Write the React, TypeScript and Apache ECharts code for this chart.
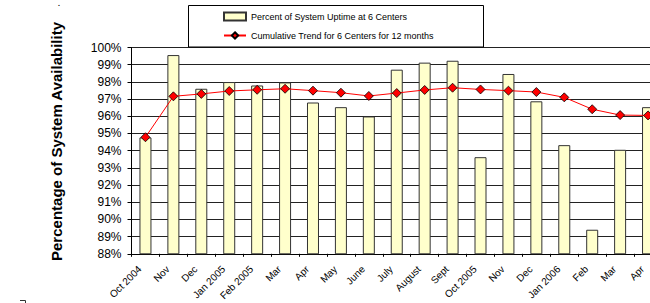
import React, { useEffect, useRef } from "react";
import * as echarts from "echarts";

const categories = [
  "Oct 2004", "Nov", "Dec", "Jan 2005", "Feb 2005", "Mar", "Apr", "May", "June",
  "July", "August", "Sept", "Oct 2005", "Nov", "Dec", "Jan 2006", "Feb", "Mar", "Apr",
];
const uptime = [
  94.77, 99.56, 97.6, 97.99, 97.79, 97.97, 96.8, 96.53, 95.99,
  98.71, 99.12, 99.23, 93.62, 98.46, 96.87, 94.32, 89.4, 94.05, 96.53,
];
const trend = [
  94.78, 97.16, 97.3, 97.47, 97.54, 97.6, 97.49, 97.37, 97.18,
  97.35, 97.53, 97.66, 97.56, 97.49, 97.41, 97.1, 96.41, 96.07, 96.05,
];
const barName = "Percent of System Uptime at 6 Centers";
const lineName = "Cumulative Trend for 6 Centers for 12 months";
const yTitle = "Percentage of System Availability";

const FONT = "'Liberation Sans', Arial, sans-serif";

export default function App() {
  const ref = useRef<HTMLDivElement>(null);
  useEffect(() => {
    if (!ref.current) return;
    const chart = echarts.init(ref.current, undefined, { renderer: "svg" });
    chart.setOption({
      animation: false,
      backgroundColor: "#fff",
      textStyle: { fontFamily: FONT },
      grid: { left: 131.5, top: 47.5, width: 530.5, height: 209.5 },
      legend: {
        orient: "vertical",
        left: 223,
        top: 11,
        padding: 0,
        itemGap: 8,
        itemWidth: 22,
        itemHeight: 8,
        textStyle: { fontSize: 9, color: "#000", fontFamily: FONT, lineHeight: 11 },
        data: [
          { name: barName, icon: "rect" },
          { name: lineName },
        ],
      },
      xAxis: {
        type: "category",
        data: categories,
        boundaryGap: true,
        axisLine: { lineStyle: { color: "#000", width: 1 } },
        axisTick: { show: true, length: 3, lineStyle: { color: "#000" } },
        axisLabel: {
          interval: 0,
          rotate: 45,
          fontSize: 10,
          margin: 8,
          padding: [0, 8, 4, 0],
          color: "#000",
          fontFamily: FONT,
        },
      },
      yAxis: {
        type: "value",
        min: 88,
        max: 100,
        interval: 1,
        axisLine: { show: true, lineStyle: { color: "#000", width: 1 } },
        axisTick: { show: true, length: 4, lineStyle: { color: "#000" } },
        axisLabel: {
          formatter: "{value}%",
          fontSize: 12,
          margin: 10,
          color: "#000",
          fontFamily: FONT,
        },
        splitLine: { show: true, lineStyle: { color: "#222", width: 1 } },
      },
      series: [
        {
          name: barName,
          type: "bar",
          data: uptime,
          barWidth: 12,
          itemStyle: { color: "#FFFFCC", borderColor: "#333", borderWidth: 1 },
        },
        {
          name: lineName,
          type: "line",
          data: trend,
          symbol: "diamond",
          symbolSize: 9,
          lineStyle: { color: "#FF0000", width: 1 },
          itemStyle: { color: "#FF0000", borderColor: "#000", borderWidth: 0.8 },
          z: 5,
        },
      ],
      graphic: [
        {
          type: "rect",
          shape: { x: 188.5, y: 5.5, width: 295, height: 41.5 },
          style: { fill: "none", stroke: "#000", lineWidth: 1 },
          z: 10,
        },
        {
          type: "text",
          x: 56,
          y: 141.5,
          rotation: Math.PI / 2,
          style: {
            text: yTitle,
            font: `bold 15px ${FONT}`,
            fill: "#000",
            align: "center",
            verticalAlign: "middle",
          },
        },
        {
          type: "text",
          x: 59,
          y: 0,
          style: { text: ".", font: `bold 7px ${FONT}`, fill: "#000", align: "center", verticalAlign: "top" },
        },
        {
          type: "polyline",
          shape: { points: [[20, 300.5], [25.5, 300.5], [25.5, 303]] },
          style: { stroke: "#333", lineWidth: 1, fill: "none" },
        },
      ],
    });
    return () => chart.dispose();
  }, []);
  return (
    <div
      style={{
        position: "fixed",
        left: 0,
        top: 0,
        width: 650,
        height: 303,
        overflow: "hidden",
        background: "#fff",
      }}
    >
      <div ref={ref} style={{ width: 680, height: 303 }} />
    </div>
  );
}
